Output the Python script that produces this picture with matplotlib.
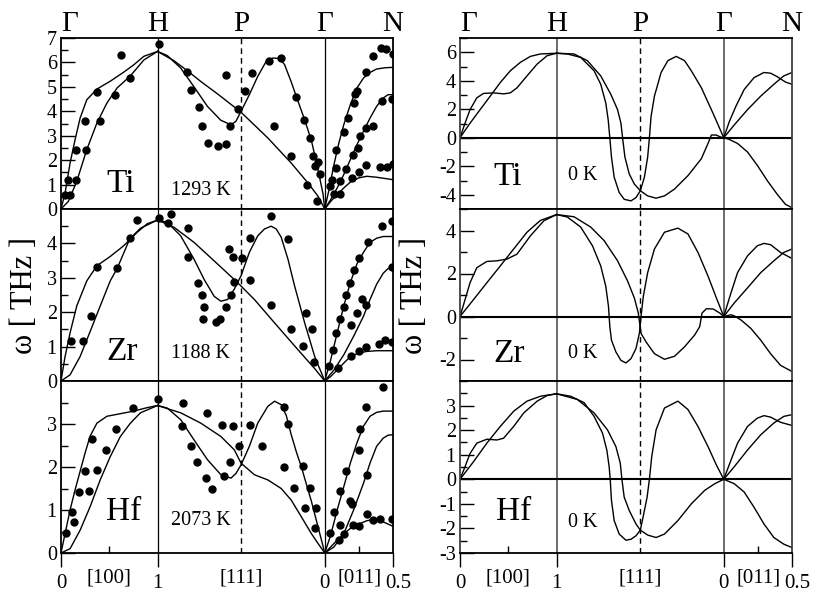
import matplotlib.pyplot as plt

plt.rcParams['font.family'] = ['Liberation Serif', 'DejaVu Serif']
plt.rcParams['axes.unicode_minus'] = False

# high symmetry points along the bcc path (distance in units of 2pi/a)
k_pos = [0.0, 1.0, 1.866, 2.732, 3.439]
k_names = ['Γ', 'H', 'P', 'Γ', 'N']
bottom_labels = ['0', '[100]', '1', '[111]', '0', '[011]', '0.5']
bottom_pos = [0.0, 0.5, 1.0, 1.866, 2.732, 3.09, 3.439]

metals = ['Ti', 'Zr', 'Hf']
temps = ['1293 K', '1188 K', '2073 K']

# ---------------- measured phonons (left column) ----------------
ti_exp_q = [0.045, 0.094, 0.076, 0.156, 0.156, 0.25, 0.257, 0.372, 0.406, 0.5625,
            0.622, 0.715, 1.017, 1.302, 1.344, 1.431, 1.458, 1.524, 1.622, 1.712,
            1.712, 1.753, 1.833, 1.911, 1.976, 2.158, 2.203, 2.279, 2.382, 2.433,
            2.519, 2.581, 2.612, 2.629, 2.663, 2.684, 2.553, 2.649,
            2.786, 2.803, 2.827, 2.844, 2.851, 2.888, 2.895, 2.936, 2.953, 2.970,
            3.014, 3.025, 3.031, 3.048, 3.065, 3.072, 3.086, 3.093, 3.157, 3.157,
            3.229, 3.235, 3.310, 3.320, 3.371, 3.432, 3.439, 3.157, 3.303, 3.378, 3.439]
ti_exp_w = [0.59, 0.59, 1.17, 1.2, 2.4, 3.62, 2.43, 4.79, 3.59, 4.68,
            6.3, 5.36, 6.75, 5.61, 4.87, 4.16, 3.41, 2.7, 2.56, 2.66,
            5.47, 3.41, 4.11, 4.84, 5.57, 6.07, 3.38, 6.18, 2.18, 4.58,
            3.63, 2.91, 2.16, 1.75, 1.91, 1.43, 0.97, 0.34,
            0.93, 1.2, 0.61, 1.69, 2.4, 0.61, 1.16, 3.15, 1.64, 3.72,
            1.27, 2.22, 4.34, 4.72, 4.84, 2.5, 1.51, 2.99, 3.33, 5.61,
            3.38, 6.26, 6.59, 4.41, 6.55, 4.52, 6.34, 1.79, 1.72, 1.72, 1.86]

zr_exp_q = [0.104, 0.233, 0.309, 0.378, 0.583, 0.712, 0.788, 1.014, 1.111, 1.139,
            1.316, 1.316, 1.417, 1.458, 1.483, 1.472, 1.608, 1.649, 1.705, 1.736,
            1.76, 1.785, 1.788, 1.873, 1.955, 1.955, 2.175, 2.175, 2.347, 2.381,
            2.502, 2.54, 2.605, 2.622,
            2.776, 2.817, 2.868, 2.844, 2.888, 2.929, 2.953, 2.997, 3.037, 3.088,
            3.177, 3.007, 3.007, 3.065, 3.116, 3.157, 3.32, 3.432, 3.432,
            3.086, 3.157, 3.296, 3.361, 3.432]
zr_exp_w = [1.15, 1.15, 1.9, 3.32, 3.28, 4.15, 4.69, 4.73, 4.59, 4.85,
            4.45, 3.6, 2.86, 2.5, 2.16, 1.79, 1.71, 1.79, 2.16, 3.83,
            2.5, 3.6, 2.88, 3.58, 4.15, 2.93, 4.81, 2.21, 4.13, 1.51,
            1.03, 1.98, 1.51, 0.54,
            0.45, 0.91, 0.37, 1.4, 1.79, 2.16, 2.49, 2.84, 3.23, 3.59,
            4.05, 0.73, 1.64, 1.98, 2.37, 2.2, 4.52, 3.3, 4.66,
            0.88, 1.0, 1.07, 1.18, 1.13]

hf_exp_q = [0.049, 0.111, 0.139, 0.188, 0.247, 0.295, 0.323, 0.372, 0.469, 0.566,
            0.743, 1.003, 1.26, 1.253, 1.347, 1.406, 1.5, 1.517, 1.569, 1.663,
            1.684, 1.753, 1.785, 1.844, 1.96, 2.077, 2.31, 2.351, 2.305, 2.415,
            2.508, 2.525, 2.577, 2.639, 2.629,
            2.783, 2.827, 2.878, 2.888, 2.888, 2.929, 2.953, 2.99, 3.014, 3.021,
            3.088, 3.082, 3.099, 3.174, 3.16, 3.174, 3.235, 3.303, 3.432, 3.331]
hf_exp_w = [0.47, 0.96, 0.71, 1.43, 1.91, 1.45, 2.66, 1.92, 2.39, 2.89,
            3.37, 3.57, 3.49, 2.96, 2.49, 2.12, 1.75, 3.26, 1.48, 2.97,
            1.78, 2.12, 2.95, 2.48, 2.98, 2.48, 3.4, 2.99, 2.01, 1.52,
            2.03, 1.04, 1.52, 1.04, 0.57,
            0.47, 0.96, 0.3, 1.44, 0.65, 0.45, 1.91, 1.21, 1.15, 0.66,
            0.62, 2.4, 2.89, 1.82, 3.4, 0.9, 0.76, 0.8, 0.79, 3.86]

# ---------------- calculated branches, high temperature (left column) ----------------
ti_hot = [
    ([0, 0.042, 0.094, 0.146, 0.198, 0.267, 0.372, 0.51, 0.649, 0.753, 0.858, 1.0],
     [0, 0.65, 1.88, 2.84, 3.72, 4.47, 4.91, 5.23, 5.6, 5.9, 6.25, 6.45]),
    ([0, 0.076, 0.163, 0.267, 0.372, 0.476, 0.58, 0.719, 0.858, 1.0],
     [0, 0.31, 1.13, 2.43, 3.52, 4.34, 4.95, 5.45, 6.1, 6.45]),
    ([1, 1.17, 1.309, 1.448, 1.622, 1.865, 2.142, 2.385, 2.559, 2.663, 2.732],
     [6.45, 6.07, 5.66, 5.22, 4.71, 3.96, 2.91, 1.88, 1.06, 0.52, 0]),
    ([1.0, 1.101, 1.24, 1.378, 1.517, 1.656, 1.76, 1.812, 1.865, 1.951, 2.038, 2.125,
      2.194, 2.264, 2.316, 2.385, 2.438, 2.524, 2.594, 2.663, 2.715, 2.732],
     [6.45, 6.28, 5.77, 5.0, 4.2, 3.63, 3.45, 3.59, 4.0, 4.68, 5.43, 6.04,
      6.18, 6.16, 5.91, 5.2, 4.6, 3.65, 2.8, 1.6, 0.6, 0]),
    ([2.732, 2.776, 2.827, 2.878, 2.929, 2.997, 3.065, 3.133, 3.201, 3.269, 3.354, 3.439],
     [0, 0.79, 1.81, 2.70, 3.45, 4.27, 4.95, 5.36, 5.59, 5.73, 5.78, 5.8]),
    ([2.732, 2.793, 2.861, 2.929, 2.997, 3.065, 3.133, 3.201, 3.269, 3.337, 3.388, 3.439],
     [0, 0.38, 0.86, 1.41, 2.02, 2.63, 3.18, 3.72, 4.2, 4.54, 4.68, 4.68]),
    ([2.732, 2.793, 2.861, 2.929, 2.997, 3.082, 3.167, 3.269, 3.371, 3.439],
     [0, 0.31, 0.59, 0.86, 1.1, 1.27, 1.34, 1.3, 1.24, 1.2]),
]

zr_hot = [
    ([0, 0.042, 0.094, 0.163, 0.267, 0.372, 0.51, 0.649, 0.788, 0.892, 1],
     [0, 0.71, 1.4, 2.18, 2.91, 3.35, 3.62, 3.93, 4.32, 4.57, 4.68]),
    ([0, 0.094, 0.198, 0.302, 0.406, 0.51, 0.583, 0.712, 0.823, 1],
     [0, 0.18, 0.71, 1.44, 2.18, 2.91, 3.28, 4.13, 4.44, 4.68]),
    ([1, 1.17, 1.378, 1.587, 1.795, 1.865, 2.003, 2.212, 2.42, 2.628, 2.732],
     [4.68, 4.47, 4.03, 3.49, 2.95, 2.76, 2.37, 1.69, 1.02, 0.36, 0]),
    ([1, 1.101, 1.24, 1.378, 1.483, 1.587, 1.656, 1.726, 1.795, 1.865, 1.951, 2.038,
      2.108, 2.177, 2.229, 2.281, 2.351, 2.42, 2.524, 2.628, 2.732],
     [4.68, 4.61, 4.22, 3.54, 2.95, 2.46, 2.32, 2.37, 2.67, 3.06, 3.74, 4.22,
      4.42, 4.5, 4.42, 4.18, 3.54, 2.76, 1.69, 0.71, 0]),
    ([2.732, 2.793, 2.861, 2.929, 2.997, 3.065, 3.133, 3.201, 3.269, 3.337, 3.439],
     [0, 0.61, 1.4, 2.18, 2.86, 3.4, 3.74, 4.03, 4.15, 4.2, 4.2]),
    ([2.732, 2.827, 2.929, 3.031, 3.133, 3.201, 3.269, 3.337, 3.388, 3.439],
     [0, 0.32, 0.76, 1.3, 1.88, 2.37, 2.81, 3.13, 3.27, 3.3]),
    ([2.732, 2.793, 2.861, 2.929, 2.997, 3.082, 3.167, 3.269, 3.371, 3.439],
     [0, 0.13, 0.32, 0.52, 0.71, 0.81, 0.86, 0.88, 0.88, 0.88]),
]

hf_hot = [
    ([0, 0.042, 0.094, 0.146, 0.198, 0.25, 0.302, 0.372, 0.476, 0.615, 0.753, 0.892, 1],
     [0, 0.45, 1.0, 1.47, 1.9, 2.33, 2.72, 3.02, 3.18, 3.24, 3.3, 3.38, 3.43]),
    ([0, 0.094, 0.198, 0.302, 0.406, 0.51, 0.615, 0.719, 0.823, 1],
     [0, 0.1, 0.53, 1.08, 1.7, 2.24, 2.71, 3.02, 3.26, 3.43]),
    ([1, 1.24, 1.448, 1.656, 1.795, 1.865, 2.003, 2.142, 2.281, 2.385, 2.49, 2.594, 2.663, 2.732],
     [3.43, 3.26, 3.02, 2.71, 2.4, 2.09, 1.82, 1.7, 1.5, 1.23, 0.84, 0.45, 0.22, 0]),
    ([1, 1.101, 1.24, 1.378, 1.517, 1.656, 1.76, 1.812, 1.865, 1.951, 2.038, 2.142,
      2.212, 2.281, 2.333, 2.385, 2.438, 2.49, 2.542, 2.594, 2.646, 2.698, 2.732],
     [3.43, 3.37, 3.1, 2.63, 2.17, 1.82, 1.74, 1.85, 2.05, 2.48, 3.02, 3.41,
      3.53, 3.45, 3.2, 2.75, 2.35, 2.0, 1.6, 1.2, 0.75, 0.3, 0]),
    ([2.732, 2.793, 2.861, 2.929, 2.997, 3.065, 3.133, 3.201, 3.269, 3.337, 3.439],
     [0, 0.41, 1.0, 1.54, 2.09, 2.56, 2.95, 3.18, 3.27, 3.3, 3.3]),
    ([2.732, 2.827, 2.929, 3.031, 3.133, 3.201, 3.269, 3.337, 3.388, 3.439],
     [0, 0.14, 0.45, 1.0, 1.62, 2.09, 2.48, 2.67, 2.74, 2.75]),
    ([2.732, 2.793, 2.861, 2.929, 2.997, 3.082, 3.167, 3.235, 3.303, 3.371, 3.439],
     [0, 0.14, 0.3, 0.45, 0.57, 0.67, 0.75, 0.78, 0.76, 0.69, 0.62]),
]

# ---------------- calculated branches, 0 K (right column) ----------------
ti_cold = [
    ([0, 0.052, 0.104, 0.174, 0.243, 0.347, 0.451, 0.521, 0.59, 0.694, 0.799, 0.903, 1],
     [0, 1.02, 1.97, 2.8, 3.11, 3.15, 3.08, 3.15, 3.5, 4.34, 5.17, 5.76, 5.93]),
    ([0, 0.104, 0.208, 0.313, 0.417, 0.521, 0.625, 0.729, 0.833, 1],
     [0, 1.02, 1.97, 2.92, 3.87, 4.7, 5.29, 5.71, 5.88, 5.93]),
    ([1, 1.111, 1.25, 1.389, 1.458, 1.51, 1.535, 1.552, 1.569, 1.597, 1.649, 1.701, 1.771,
      1.823, 1.868, 1.91, 1.944, 1.962, 1.979, 2.014, 2.083, 2.153, 2.24, 2.326, 2.396,
      2.5, 2.604, 2.674, 2.732],
     [5.93, 5.88, 5.64, 4.7, 3.75, 2.44, 1.26, 0, -1.35, -2.77, -3.84, -4.32, -4.43,
      -4.2, -3.72, -2.77, -1.35, 0, 1.49, 2.92, 4.58, 5.41, 5.71, 5.41, 4.7,
      3.51, 1.97, 0.9, 0]),
    ([1, 1.181, 1.319, 1.458, 1.563, 1.632, 1.667, 1.684, 1.708, 1.753, 1.806, 1.868,
      1.944, 2.031, 2.118, 2.222, 2.361, 2.5, 2.569, 2.604, 2.656, 2.691, 2.732],
     [5.93, 5.88, 5.41, 4.34, 3.04, 1.97, 1.02, 0, -1.35, -2.54, -3.25, -3.72,
      -4.08, -4.24, -4.08, -3.6, -2.66, -1.47, -0.4, 0.19, 0.19, 0.07, 0]),
    ([2.732, 2.79, 2.858, 2.944, 3.046, 3.149, 3.217, 3.285, 3.371, 3.439],
     [0, 1.14, 2.21, 3.39, 4.22, 4.58, 4.53, 4.29, 3.91, 3.75]),
    ([2.732, 2.841, 2.978, 3.115, 3.251, 3.354, 3.439],
     [0, 0.9, 1.97, 2.92, 3.75, 4.34, 4.58]),
    ([2.732, 2.79, 2.875, 2.978, 3.08, 3.183, 3.285, 3.371, 3.439],
     [0, -0.12, -0.4, -1.0, -1.94, -3.01, -3.96, -4.67, -4.91]),
]

zr_cold = [
    ([0, 0.052, 0.104, 0.174, 0.278, 0.382, 0.486, 0.59, 0.729, 0.868, 1],
     [0, 0.78, 1.57, 2.27, 2.56, 2.59, 2.67, 2.9, 3.75, 4.45, 4.74]),
    ([0, 0.139, 0.278, 0.417, 0.556, 0.694, 0.833, 1],
     [0, 0.78, 1.57, 2.35, 3.14, 3.92, 4.47, 4.74]),
    ([1, 1.111, 1.25, 1.372, 1.458, 1.51, 1.538, 1.552, 1.569, 1.615, 1.667, 1.719, 1.771,
      1.823, 1.858, 1.875, 1.899, 1.944, 2.014, 2.118, 2.257, 2.361, 2.465, 2.569, 2.656, 2.732],
     [4.74, 4.63, 4.16, 3.29, 2.35, 1.41, 0.47, -0.47, -1.1, -1.65, -2.04, -2.16, -1.96,
      -1.49, -0.78, 0, 0.94, 2.04, 3.14, 3.92, 4.11, 3.84, 2.98, 1.88, 0.86, 0]),
    ([1, 1.181, 1.354, 1.493, 1.632, 1.736, 1.806, 1.847, 1.861, 1.875, 1.927, 2.014,
      2.118, 2.222, 2.326, 2.431, 2.483, 2.507, 2.552, 2.622, 2.691, 2.732],
     [4.74, 4.64, 4.16, 3.53, 2.59, 1.65, 0.86, 0.16, -0.31, -0.78, -1.18, -1.73,
      -1.99, -1.85, -1.41, -0.86, -0.47, 0.16, 0.36, 0.35, 0.16, 0]),
    ([2.732, 2.807, 2.875, 2.978, 3.08, 3.149, 3.217, 3.32, 3.439],
     [0, 1.1, 2.04, 2.82, 3.29, 3.4, 3.34, 2.98, 2.7]),
    ([2.732, 2.841, 2.978, 3.115, 3.251, 3.354, 3.439],
     [0, 0.63, 1.33, 2.04, 2.59, 2.98, 3.14]),
    ([2.732, 2.807, 2.841, 2.91, 3.012, 3.115, 3.217, 3.32, 3.439],
     [0, 0.08, 0.03, -0.16, -0.55, -1.1, -1.73, -2.27, -2.56]),
]

hf_cold = [
    ([0, 0.052, 0.104, 0.174, 0.278, 0.382, 0.451, 0.556, 0.66, 0.799, 0.903, 1],
     [0, 0.51, 1.05, 1.47, 1.63, 1.60, 1.67, 2.15, 2.7, 3.18, 3.41, 3.48]),
    ([0, 0.139, 0.278, 0.417, 0.556, 0.694, 0.833, 1],
     [0, 0.71, 1.47, 2.15, 2.77, 3.18, 3.38, 3.48]),
    ([1, 1.146, 1.285, 1.389, 1.476, 1.521, 1.545, 1.556, 1.569, 1.597, 1.649, 1.719, 1.771,
      1.823, 1.868, 1.903, 1.938, 1.962, 1.986, 2.031, 2.118, 2.257, 2.361, 2.465, 2.569,
      2.656, 2.732],
     [3.48, 3.38, 3.12, 2.56, 1.88, 1.19, 0.51, 0, -0.86, -1.68, -2.23, -2.48, -2.44,
      -2.3, -2.07, -1.41, -0.73, 0, 0.92, 2.01, 2.9, 3.18, 2.84, 2.15, 1.33,
      0.58, 0]),
    ([1, 1.215, 1.389, 1.528, 1.615, 1.66, 1.677, 1.701, 1.753, 1.823, 1.868, 1.944,
      2.031, 2.118, 2.257, 2.396, 2.535, 2.639, 2.732],
     [3.48, 3.25, 2.7, 2.01, 1.33, 0.66, 0, -0.73, -1.27, -1.82, -2.07, -2.27,
      -2.37, -2.23, -1.68, -1.0, -0.45, -0.18, 0]),
    ([2.732, 2.807, 2.875, 2.978, 3.08, 3.149, 3.217, 3.32, 3.439],
     [0, 0.78, 1.47, 2.15, 2.49, 2.59, 2.53, 2.32, 2.19]),
    ([2.732, 2.841, 2.978, 3.115, 3.251, 3.354, 3.439],
     [0, 0.51, 1.19, 1.81, 2.29, 2.56, 2.63]),
    ([2.732, 2.841, 2.944, 3.046, 3.149, 3.251, 3.354, 3.439],
     [0, -0.18, -0.52, -1.14, -1.82, -2.37, -2.64, -2.78]),
]

hot_ylims = [(0, 7), (0, 5), (0, 4)]
hot_yticks = [range(0, 8), range(0, 5), range(0, 4)]
cold_ylims = [(-5, 7), (-3, 5), (-3, 4)]
cold_yticks = [[-4, -2, 0, 2, 4, 6], [-2, 0, 2, 4], [-3, -2, -1, 0, 1, 2, 3]]
cold_minor = [1, 1, 0.5]

exp_q = [ti_exp_q, zr_exp_q, hf_exp_q]
exp_w = [ti_exp_w, zr_exp_w, hf_exp_w]
hot = [ti_hot, zr_hot, hf_hot]
cold = [ti_cold, zr_cold, hf_cold]

W, H = 814, 593
fig = plt.figure(figsize=(W / 100, H / 100), dpi=100)

rows_px = [(38, 209), (209, 381), (381, 553)]
cols_px = [(61, 393), (460, 792)]


def make_axes(col, row):
    x0, x1 = cols_px[col]
    y0, y1 = rows_px[row]
    return fig.add_axes([x0 / W, 1 - y1 / H, (x1 - x0) / W, (y1 - y0) / H])


def style_axes(ax, last, vcolor, vlw):
    ax.set_xlim(k_pos[0], k_pos[-1])
    for k in (k_pos[1], k_pos[3]):
        ax.axvline(k, color=vcolor, lw=vlw, zorder=1)
    ax.axvline(k_pos[2], color='k', lw=1.0, ls=(0, (4, 3)), zorder=1)
    ax.tick_params(axis='y', which='major', direction='in', length=10, width=1,
                   labelsize=14.5, pad=3, right=False)
    ax.tick_params(axis='y', which='minor', direction='in', length=5, width=1, right=False)
    for s in ax.spines.values():
        s.set_linewidth(1.3)
    if last:
        ax.set_xticks([k_pos[0], k_pos[1], k_pos[3], k_pos[4]])
        ax.set_xticklabels([])
        ax.set_xticks([0.5, 3.09], minor=True)
        ax.tick_params(axis='x', which='major', direction='out', length=10, width=1)
        ax.tick_params(axis='x', which='minor', direction='in', length=5, width=1)
        for lab, q in zip(bottom_labels, bottom_pos):
            dy = -21.5 if lab.startswith('[') else -25.5
            dx = 4 if lab == '0.5' else 0
            ax.annotate(lab, xy=(q, 0), xycoords=('data', 'axes fraction'),
                        xytext=(dx, dy), textcoords='offset points',
                        ha='center', va='baseline', fontsize=15)
    else:
        ax.set_xticks([])
        ax.set_xticks([], minor=True)


def top_labels(ax):
    for i, (k, name) in enumerate(zip(k_pos, k_names)):
        # the first Gamma sits just right of the frame in the original
        dx = 6 if i == 0 else 0
        ax.annotate(name, xy=(k, 1), xycoords=('data', 'axes fraction'),
                    xytext=(dx, 5), textcoords='offset points',
                    ha='center', va='baseline', fontsize=21)


for r in range(3):
    # left: measured + calculated at high temperature
    ax = make_axes(0, r)
    style_axes(ax, r == 2, 'k', 0.9)
    ax.set_ylim(*hot_ylims[r])
    ax.set_yticks(list(hot_yticks[r]))
    ax.set_yticks([v / 2 for v in range(1, 2 * hot_ylims[r][1], 2)], minor=True)
    for q, w in hot[r]:
        ax.plot(q, w, color='k', lw=1.0, zorder=2)
    ax.plot(exp_q[r], exp_w[r], 'o', color='k', ms=5, zorder=3)
    ax.text(0.136, [0.146, 0.169, 0.238][r], metals[r], transform=ax.transAxes,
            fontsize=24, va='center', ha='left')
    ax.text(0.331, [0.111, 0.157, 0.19][r], temps[r], transform=ax.transAxes,
            fontsize=14.5, va='center', ha='left')
    if r == 0:
        top_labels(ax)

    # right: calculated at 0 K
    ax = make_axes(1, r)
    style_axes(ax, r == 2, '#606060', 1.3)
    ax.axhline(0, color='k', lw=1.5, zorder=1)
    lo, hi = cold_ylims[r]
    ax.set_ylim(lo, hi)
    ax.set_yticks(cold_yticks[r])
    step = cold_minor[r]
    n = int(round((hi - lo) / step))
    ax.set_yticks([lo + i * step for i in range(n + 1)], minor=True)
    for side in ('left', 'right'):
        ax.spines[side].set_color('#404040')
    for q, w in cold[r]:
        ax.plot(q, w, color='k', lw=1.0, zorder=2)
    ax.text([0.102, 0.102, 0.108][r], [0.187, 0.157, 0.238][r], metals[r],
            transform=ax.transAxes, fontsize=24, va='center', ha='left')
    ax.text(0.325, [0.193, 0.157, 0.18][r], '0 K', transform=ax.transAxes,
            fontsize=14.5, va='center', ha='left')
    if r == 0:
        top_labels(ax)

fig.text(25 / W, 1 - 296 / H, 'ω [ THz ]', rotation=90, fontsize=22,
         ha='center', va='center')
fig.text(415 / W, 1 - 296 / H, 'ω [ THz ]', rotation=90, fontsize=22,
         ha='center', va='center')

fig.savefig('out.png', dpi=100)
